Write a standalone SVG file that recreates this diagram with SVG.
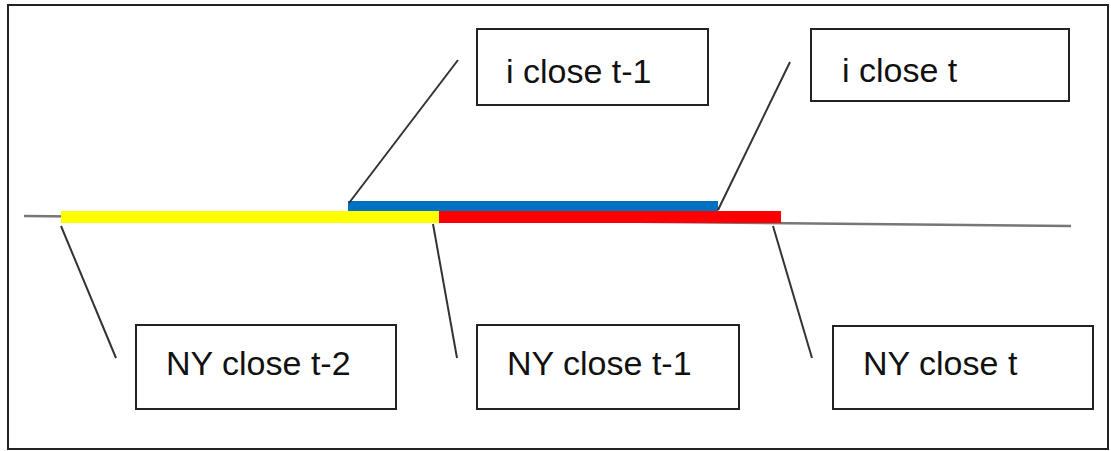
<svg xmlns="http://www.w3.org/2000/svg" width="1111" height="451" viewBox="0 0 1111 451">
<style>
.box{fill:#fff;stroke:#222;stroke-width:2}
.lbl{font-family:"Liberation Sans",Arial,sans-serif;font-size:34px;fill:#111}
.lead{stroke:#333;stroke-width:2;fill:none}
</style>
<rect x="0" y="0" width="1111" height="451" fill="#fff"/>
<rect x="8" y="5" width="1100" height="444" fill="none" stroke="#222" stroke-width="2"/>
<g id="timeline">
<line x1="24" y1="216" x2="1071" y2="226" stroke="#777" stroke-width="2.5"/>
<rect x="348" y="201" width="370" height="10" fill="#0070c0"/>
<rect x="61" y="211" width="378" height="12" fill="#ffff00"/>
<rect x="439" y="211" width="342" height="12" fill="#ff0000"/>
</g>
<g id="connectors">
<line class="lead" x1="349" y1="203" x2="458" y2="60"/>
<line class="lead" x1="718" y1="210" x2="790" y2="62"/>
<line class="lead" x1="61" y1="226" x2="116" y2="358"/>
<line class="lead" x1="433" y1="224" x2="457" y2="358"/>
<line class="lead" x1="773" y1="226" x2="812" y2="358"/>
</g>
<g id="i-close-t-1"><rect class="box" x="477" y="29" width="231" height="76"/><text class="lbl" x="506" y="83">i close t-1</text></g>
<g id="i-close-t"><rect class="box" x="811" y="29" width="258" height="72"/><text class="lbl" x="842" y="82">i close t</text></g>
<g id="ny-close-t-2"><rect class="box" x="136" y="325" width="260" height="84"/><text class="lbl" x="166" y="375">NY close t-2</text></g>
<g id="ny-close-t-1"><rect class="box" x="477" y="325" width="262" height="84"/><text class="lbl" x="507" y="375">NY close t-1</text></g>
<g id="ny-close-t"><rect class="box" x="833" y="326" width="260" height="83"/><text class="lbl" x="863" y="375">NY close t</text></g>
</svg>
